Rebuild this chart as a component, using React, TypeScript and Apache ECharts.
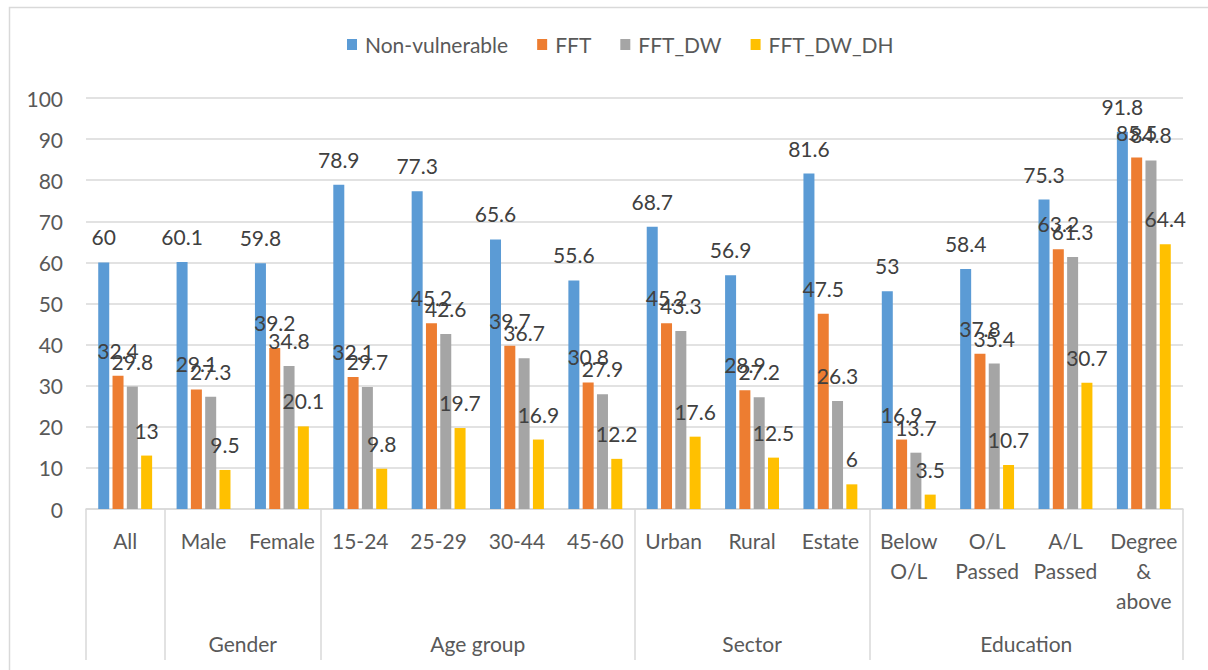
import React, { useEffect, useRef } from "react";
import * as echarts from "echarts";

const categories = [
  "All", "Male", "Female", "15-24", "25-29", "30-44", "45-60",
  "Urban", "Rural", "Estate", "Below\nO/L", "O/L\nPassed", "A/L\nPassed", "Degree\n&\nabove",
];
const groupNames = ["Gender", "Age group", "Sector", "Education"];
// group centres, in category units from the left edge of the axis
const groupCenters = [2, 5, 8.5, 12];
// category indices whose left boundary carries a separator
const groupBoundaries = [0, 1, 3, 7, 10];

const seriesNames = ["Non-vulnerable", "FFT", "FFT_DW", "FFT_DW_DH"];
const nonVulnerable = [60, 60.1, 59.8, 78.9, 77.3, 65.6, 55.6, 68.7, 56.9, 81.6, 53, 58.4, 75.3, 91.8];
const fft = [32.4, 29.1, 39.2, 32.1, 45.2, 39.7, 30.8, 45.2, 28.9, 47.5, 16.9, 37.8, 63.2, 85.5];
const fftDw = [29.8, 27.3, 34.8, 29.7, 42.6, 36.7, 27.9, 43.3, 27.2, 26.3, 13.7, 35.4, 61.3, 84.8];
const fftDwDh = [13, 9.5, 20.1, 9.8, 19.7, 16.9, 12.2, 17.6, 12.5, 6, 3.5, 10.7, 30.7, 64.4];
const seriesColors = ["#5B9BD5", "#ED7D31", "#A5A5A5", "#FFC000"];

const yMin = 0;
const yMax = 100;
const yInterval = 10;

const FONT = "Lato, 'Open Sans', sans-serif";

export default function App() {
  const ref = useRef<HTMLDivElement>(null);

  useEffect(() => {
    if (!ref.current) return;
    const chart = echarts.init(ref.current, null, { renderer: "svg" });
    const allData = [nonVulnerable, fft, fftDw, fftDwDh];

    chart.setOption({
      animation: false,
      backgroundColor: "#ffffff",
      textStyle: { fontFamily: FONT },
      graphic: [
        {
          type: "rect",
          z: -10,
          shape: { x: 9.5, y: 7.5, width: 1230, height: 700 },
          style: { fill: "none", stroke: "#d9d9d9", lineWidth: 1.5 },
        },
      ],
      legend: {
        data: seriesNames,
        left: 342,
        top: 29,
        itemWidth: 10,
        itemHeight: 11,
        itemGap: 29,
        icon: "rect",
        textStyle: { fontSize: 21, color: "#595959", fontFamily: FONT, padding: [0, 0, 0, 3] },
      },
      grid: {
        left: 86,
        right: 25,
        top: 98,
        bottom: 161,
        containLabel: false,
        outerBoundsMode: "none",
      },
      xAxis: [
        {
          type: "category",
          data: categories,
          axisLine: { show: true, lineStyle: { color: "#d9d9d9", width: 1.5 } },
          axisTick: {
            show: true,
            length: 151,
            interval: (index: number) => groupBoundaries.includes(index),
            lineStyle: { color: "#d9d9d9", width: 1.5 },
          },
          axisLabel: {
            interval: 0,
            margin: 16,
            fontSize: 21,
            lineHeight: 30,
            color: "#595959",
            fontFamily: FONT,
          },
          splitLine: { show: false },
        },
        {
          type: "value",
          position: "bottom",
          min: 0,
          max: categories.length,
          axisLine: { show: false },
          axisTick: { show: false },
          splitLine: { show: false },
          axisLabel: {
            customValues: groupCenters,
            margin: 124,
            fontSize: 21,
            color: "#595959",
            fontFamily: FONT,
            formatter: (v: number) => {
              const i = groupCenters.indexOf(v);
              return i >= 0 ? groupNames[i] : "";
            },
          },
        },
      ],
      yAxis: {
        type: "value",
        min: yMin,
        max: yMax,
        interval: yInterval,
        axisLine: { show: false },
        axisTick: { show: false },
        axisLabel: { fontSize: 21, color: "#595959", margin: 23, fontFamily: FONT },
        splitLine: { lineStyle: { color: "#d9d9d9", width: 1.5 } },
      },
      series: seriesNames.map((name, i) => ({
        name,
        type: "bar",
        xAxisIndex: 0,
        data: allData[i],
        barWidth: 11,
        barGap: "30%",
        itemStyle: { color: seriesColors[i] },
        label: {
          show: true,
          position: "top",
          distance: 15,
          fontSize: 21,
          color: "#404040",
          fontFamily: FONT,
        },
      })),
    });

    return () => chart.dispose();
  }, []);

  return (
    <div
      ref={ref}
      style={{ position: "absolute", left: 0, top: 0, width: 1208, height: 670 }}
    />
  );
}
